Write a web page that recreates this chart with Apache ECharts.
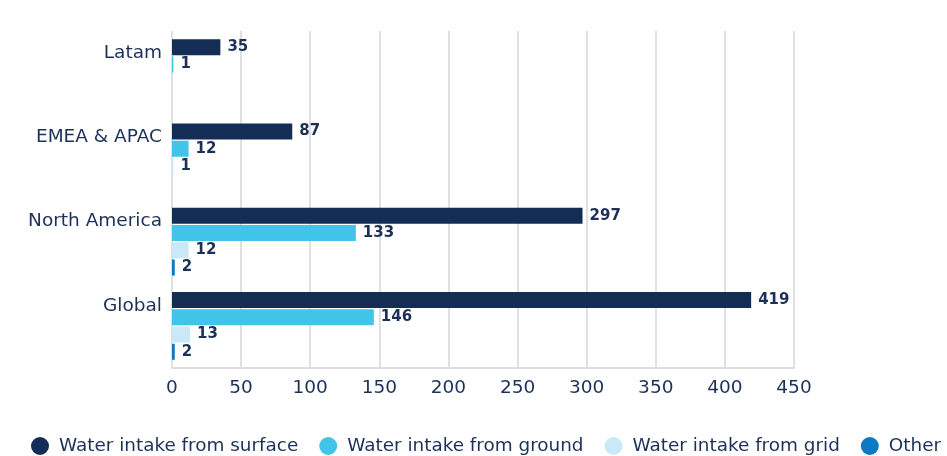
<!DOCTYPE html>
<html>
<head>
<meta charset="utf-8">
<script src="https://cdn.jsdelivr.net/npm/echarts@6/dist/echarts.min.js"></script>
<style>
  html, body { margin: 0; padding: 0; background: #fff; }
  #chart { width: 947px; height: 456px; }
</style>
</head>
<body>
<div id="chart"></div>
<script>
// Regions, listed top to bottom
const regions = ['Latam', 'EMEA & APAC', 'North America', 'Global'];

// Water intake by source (null = not reported)
const surface = [35, 87, 297, 419];
const ground = [1, 12, 133, 146];
const grid = [null, 1, 12, 13];
const other = [null, null, 2, 2];

const seriesNames = ['Water intake from surface', 'Water intake from ground', 'Water intake from grid', 'Other'];
const seriesColors = ['#142d55', '#41c4e8', '#c9e9f8', '#0b7ac2'];

const xTicks = { min: 0, max: 450, interval: 50 };

const textColor = '#1d3158';
const fontFamily = '"DejaVu Sans", "Open Sans", sans-serif';

const chart = echarts.init(document.getElementById('chart'), null, { renderer: 'canvas' });

function barSeries(name, values, color) {
  return {
    name: name,
    type: 'bar',
    data: values,
    barWidth: 16,
    barGap: '8%',
    itemStyle: { color: color },
    label: {
      show: true,
      position: 'right',
      distance: 7,
      color: textColor,
      fontFamily: fontFamily,
      fontSize: 15,
      fontWeight: 'bold'
    }
  };
}

chart.setOption({
  animation: false,
  textStyle: { fontFamily: fontFamily },
  grid: { left: 172, right: 153, top: 31, bottom: 88, containLabel: false },
  legend: {
    left: 31,
    top: 437,
    padding: 0,
    icon: 'circle',
    itemWidth: 18,
    itemHeight: 18,
    itemGap: 21,
    data: seriesNames,
    textStyle: { color: textColor, fontSize: 18.4, fontFamily: fontFamily, padding: [0, 0, 0, 5] }
  },
  xAxis: {
    type: 'value',
    min: xTicks.min,
    max: xTicks.max,
    interval: xTicks.interval,
    axisLine: { show: true, lineStyle: { color: '#dedede', width: 2 } },
    axisTick: { show: false },
    splitLine: { show: true, lineStyle: { color: '#e0e0e0', width: 2 } },
    axisLabel: { color: textColor, fontSize: 18.5, margin: 11, fontFamily: fontFamily }
  },
  yAxis: {
    type: 'category',
    inverse: true,
    data: regions,
    axisLine: { show: false },
    axisTick: { show: false },
    axisLabel: {
      margin: 10,
      // second empty line lifts the region name toward the top bar of its group
      formatter: function (value) { return '{name|' + value + '}\n{gap| }'; },
      rich: {
        name: { color: textColor, fontSize: 18.5, fontFamily: fontFamily, lineHeight: 22, align: 'right' },
        gap: { fontSize: 10, lineHeight: 40, align: 'right' }
      }
    }
  },
  series: [
    barSeries(seriesNames[0], surface, seriesColors[0]),
    barSeries(seriesNames[1], ground, seriesColors[1]),
    barSeries(seriesNames[2], grid, seriesColors[2]),
    barSeries(seriesNames[3], other, seriesColors[3])
  ]
});
</script>
</body>
</html>
